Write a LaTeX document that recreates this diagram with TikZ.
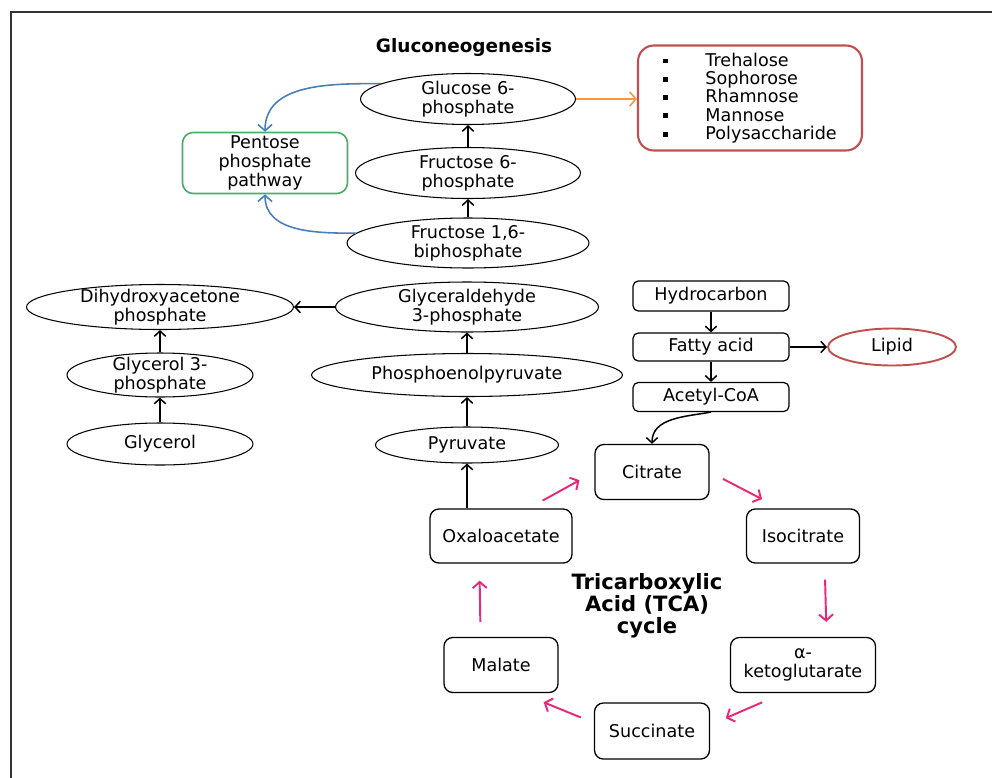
\documentclass[tikz,border=0pt]{standalone}
\usepackage{fontspec}
\setmainfont{DejaVu Sans}
\usetikzlibrary{shapes.geometric,arrows.meta}

\definecolor{azul}{RGB}{74,126,187}
\definecolor{naranja}{RGB}{247,150,70}
\definecolor{verde}{RGB}{75,172,105}
\definecolor{rojo}{RGB}{192,80,77}
\definecolor{rosa}{RGB}{232,40,120}

\newcommand{\sqbul}{\makebox[24pt][l]{\rule[1.6pt]{2.8pt}{2.8pt}}}

\tikzstyle{metab}= [ellipse,draw,black,line width=0.6pt,inner xsep=0pt,inner ysep=-2pt,align=center]
\tikzstyle{cbox}= [rectangle,draw,black,line width=0.75pt,rounded corners=5pt,inner sep=0pt,align=center]
\tikzstyle{lbox}= [rectangle,draw,black,line width=0.7pt,rounded corners=3pt,inner sep=0pt,align=center]
\tikzstyle{conv}= [black,line width=0.85pt,-{Straight Barb[length=3pt,width=6.5pt]}]
\tikzstyle{side}= [line width=0.9pt,-{Straight Barb[length=3.5pt,width=8pt]}]
\tikzstyle{cyc}= [rosa,line width=1.1pt,-{Straight Barb[length=3.5pt,width=8pt]}]

\begin{document}
\begin{tikzpicture}[x=0.02cm,y=-0.02cm,font=\fontsize{10}{11}\selectfont]

		\useasboundingbox (0,0) rectangle (992,778);
		\draw[black!80,line width=1.1pt] (11,778) -- (11,12) -- (992,12);

		\node (gluco) at (464,47) {\fontsize{10.5}{12}\selectfont\bfseries Gluconeogenesis};

		\node (glu) at (468,99) [metab,minimum width=4.3cm,minimum height=1.02cm] {Glucose 6-\\phosphate};
		\node (f6p) at (468,173) [metab,minimum width=4.5cm,minimum height=1.02cm] {Fructose 6-\\phosphate};
		\node (fbp) at (468,243) [metab,minimum width=4.84cm,minimum height=1.0cm] {Fructose 1,6-\\biphosphate};

		\node (ppp) at (265,163) [cbox,draw=verde,line width=0.9pt,rounded corners=6pt,minimum width=3.3cm,minimum height=1.22cm] {Pentose\\phosphate\\pathway};

		\node (sug) at (750,98) [rectangle,draw=rojo,line width=1.2pt,rounded corners=9pt,minimum width=4.48cm,minimum height=2.1cm,align=left,font=\fontsize{10}{10.4}\selectfont] {\sqbul Trehalose\\\sqbul Sophorose\\\sqbul Rhamnose\\\sqbul Mannose\\\sqbul Polysaccharide};

		\node (dhap) at (160,307) [metab,minimum width=5.34cm,minimum height=0.9cm] {Dihydroxyacetone\\phosphate};
		\node (g3p) at (160,375) [metab,minimum width=3.72cm,minimum height=0.88cm] {Glycerol 3-\\phosphate};
		\node (gly) at (160,444) [metab,minimum width=3.72cm,minimum height=0.84cm] {Glycerol};

		\node (gap) at (467,307) [metab,minimum width=5.26cm,minimum height=1.0cm] {Glyceraldehyde\\3-phosphate};
		\node (pep) at (467,375) [metab,minimum width=6.22cm,minimum height=0.86cm] {Phosphoenolpyruvate};
		\node (pyr) at (467,445) [metab,minimum width=3.66cm,minimum height=0.72cm] {Pyruvate};

		\node (hc) at (711,296) [lbox,minimum width=3.12cm,minimum height=0.6cm] {Hydrocarbon};
		\node (fa) at (711,347) [lbox,minimum width=3.12cm,minimum height=0.56cm] {Fatty acid};
		\node (acoa) at (711,397) [lbox,minimum width=3.12cm,minimum height=0.58cm] {Acetyl-CoA};
		\node (lip) at (892,347) [metab,draw=rojo,line width=1.1pt,minimum width=2.56cm,minimum height=0.74cm] {Lipid};

		\node (cit) at (652,472) [cbox,minimum width=2.28cm,minimum height=1.1cm] {Citrate};
		\node (oaa) at (501,536) [cbox,minimum width=2.84cm,minimum height=1.08cm] {Oxaloacetate};
		\node (iso) at (803,536) [cbox,minimum width=2.26cm,minimum height=1.08cm] {Isocitrate};
		\node (mal) at (501,665) [cbox,minimum width=2.28cm,minimum height=1.1cm] {Malate};
		\node (akg) at (803,665) [cbox,minimum width=2.9cm,minimum height=1.1cm] {α-\\ketoglutarate};
		\node (suc) at (652,731) [cbox,minimum width=2.3cm,minimum height=1.12cm] {Succinate};

		\node (tca) at (647,606) [align=center,font=\fontsize{12}{12.5}\selectfont\bfseries] {Tricarboxylic\\Acid (TCA)\\cycle};

		\path[conv] (f6p) edge[] node {} (glu);
		\path[conv] (fbp) edge[] node {} (f6p);
		\path[side,azul] (glu.170) edge[out=180,in=90] node {} (ppp.north);
		\path[side,azul] (fbp.175) edge[out=180,in=-90] node {} (ppp.south);
		\path[side,naranja] (glu.east) edge[] node {} (glu.east -| sug.west);

		\path[conv] (gap) edge[] node {} (dhap);
		\path[conv] (g3p) edge[] node {} (dhap);
		\path[conv] (gly) edge[] node {} (g3p);
		\path[conv] (pep) edge[] node {} (gap);
		\path[conv] (pyr) edge[] node {} (pep);
		\path[conv] (oaa.north -| pyr.south) edge[] node {} (pyr);

		\path[conv] (hc) edge[] node {} (fa);
		\path[conv] (fa) edge[] node {} (acoa);
		\path[conv] (fa) edge[] node {} (lip);
		\path[conv] (acoa.south) edge[out=-170,in=90] node {} (cit.north);

		\path[cyc] (oaa.45) edge[shorten <=0.32cm,shorten >=0.34cm] node {} (cit.west);
		\path[cyc] (cit.east) edge[shorten <=0.3cm,shorten >=0.4cm] node {} (iso.130);
		\path[cyc] (iso.-52) edge[shorten <=0.32cm,shorten >=0.3cm] node {} (akg.50);
		\path[cyc] (akg.-125) edge[shorten <=0.46cm,shorten >=0.34cm] node {} (suc.6);
		\path[cyc] (suc.172) edge[shorten <=0.28cm,shorten >=0.48cm] node {} (mal.-54);
		\path[cyc] (mal.126) edge[shorten <=0.3cm,shorten >=0.34cm] node {} (oaa.232);

	\end{tikzpicture}
\end{document}
